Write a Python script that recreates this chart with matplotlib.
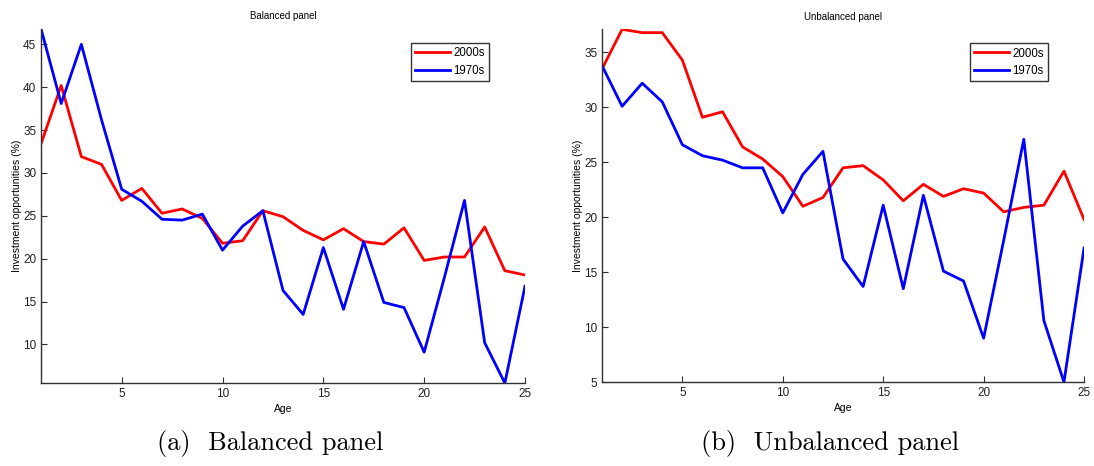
import numpy as np
import matplotlib
matplotlib.use("Agg")
import matplotlib.pyplot as plt

plt.rcParams['font.family'] = ['Liberation Sans', 'DejaVu Sans']

age = np.arange(1, 26)

# balanced panel
bal_2000s = [33.4, 40.2, 31.9, 31.0, 26.8, 28.2, 25.3, 25.8, 24.7, 21.8, 22.1, 25.6, 24.9,
             23.3, 22.2, 23.5, 22.0, 21.7, 23.6, 19.8, 20.2, 20.2, 23.7, 18.6, 18.1]
bal_1970s = [46.8, 38.1, 45.0, 36.2, 28.1, 26.7, 24.6, 24.5, 25.2, 21.0, 23.8, 25.6, 16.3,
             13.5, 21.3, 14.1, 22.0, 14.9, 14.3, 9.1, 17.8, 26.8, 10.2, 5.5, 16.8]

# unbalanced panel
unb_2000s = [33.5, 37.1, 36.8, 36.8, 34.3, 29.1, 29.6, 26.4, 25.3, 23.7, 21.0, 21.8, 24.5,
             24.7, 23.4, 21.5, 23.0, 21.9, 22.6, 22.2, 20.5, 20.9, 21.1, 24.2, 19.8]
unb_1970s = [33.8, 30.1, 32.2, 30.5, 26.6, 25.6, 25.2, 24.5, 24.5, 20.4, 23.9, 26.0, 16.2,
             13.7, 21.1, 13.5, 22.0, 15.1, 14.2, 9.0, 17.9, 27.1, 10.6, 5.0, 17.2]

panels = [
    ("Balanced panel", "(a)  Balanced panel", bal_2000s, bal_1970s, [10, 15, 20, 25, 30, 35, 40, 45]),
    ("Unbalanced panel", "(b)  Unbalanced panel", unb_2000s, unb_1970s, [5, 10, 15, 20, 25, 30, 35]),
]
positions = [[0.0375, 0.178, 0.4424, 0.760], [0.5503, 0.180, 0.4406, 0.757]]
caption_x = [270 / 1094, 830 / 1094]

fig = plt.figure(figsize=(10.94, 4.66), dpi=100)

for pos, cx, (title, caption, s2000, s1970, yt) in zip(positions, caption_x, panels):
    ax = fig.add_axes(pos)
    ax.plot(age, s2000, color="#ff0000", lw=2.0, label="2000s")
    ax.plot(age, s1970, color="#0000ff", lw=2.0, label="1970s")
    lo = min(min(s2000), min(s1970))
    hi = max(max(s2000), max(s1970))
    ax.set_xlim(1, 25)
    ax.set_ylim(lo, hi)
    ax.set_xticks([5, 10, 15, 20, 25])
    ax.set_yticks(yt)
    ax.spines['top'].set_visible(False)
    ax.spines['right'].set_visible(False)
    for s in ['left', 'bottom']:
        ax.spines[s].set_color('#303030')
        ax.spines[s].set_linewidth(1.0)
    ax.tick_params(direction='in', length=4, labelsize=8.5, colors='#303030', labelcolor='#202020')
    ax.set_title(title, fontsize=7, pad=7)
    ax.set_xlabel("Age", fontsize=7.5, labelpad=3)
    ax.set_ylabel("Investment opportunities (%)", fontsize=7.5, labelpad=1)
    leg = ax.legend(loc='upper right', bbox_to_anchor=(0.925, 0.96), fontsize=8.3, frameon=True,
                    fancybox=False, edgecolor='black', handlelength=3.0, handletextpad=0.3,
                    borderpad=0.35, labelspacing=0.5, borderaxespad=0)
    leg.get_frame().set_linewidth(1.0)
    fig.text(cx, 0.049, caption, ha='center', va='center', fontsize=19, family=['cmr10', 'DejaVu Serif'])

fig.savefig("out.png", dpi=100)
